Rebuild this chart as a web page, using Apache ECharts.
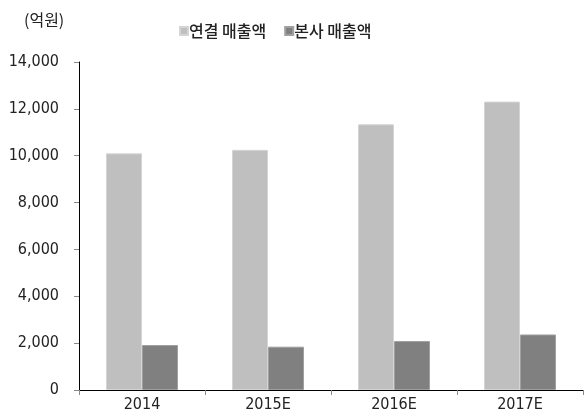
<!DOCTYPE html>
<html><head><meta charset="utf-8">
<script src="https://cdn.jsdelivr.net/npm/echarts@6/dist/echarts.min.js"></script>
<style>html,body{margin:0;padding:0;background:#fff}#c{width:584px;height:417px}</style>
</head><body><div id="c"></div>
<script>
var categories = ['2014', '2015E', '2016E', '2017E'];
var consolidated = [10100, 10250, 11340, 12310];
var parentOnly = [1920, 1850, 2090, 2370];
var seriesNames = ['연결 매출액', '본사 매출액'];
var unitLabel = '(억원)';

var FONT = '"DejaVu Sans Condensed", "Noto Sans CJK KR", sans-serif';
var KFONT = '"Noto Sans CJK KR", sans-serif';
var chart = echarts.init(document.getElementById('c'), null, {renderer: 'canvas'});
chart.setOption({
  animation: false,
  textStyle: {fontFamily: FONT},
  title: {text: unitLabel, left: 19, top: 7, textStyle: {fontFamily: KFONT, fontSize: 16, fontWeight: 'normal', color: '#222'}},
  legend: {
    data: seriesNames, left: 174, top: 18, itemWidth: 8, itemHeight: 8, itemGap: 18,
    icon: 'rect',
    textStyle: {fontFamily: KFONT, fontSize: 16, fontWeight: 500, color: '#222', padding: [0,0,0,-4]}
  },
  grid: {left: 79, right: 1, top: 62, bottom: 27, containLabel: false},
  xAxis: {
    type: 'category', data: categories,
    axisLine: {lineStyle: {color: '#000', width: 1}},
    axisTick: {show: true, length: 5, lineStyle: {color: '#888'}},
    axisLabel: {fontFamily: FONT, fontSize: 16, color: '#222', margin: 7}
  },
  yAxis: {
    type: 'value', min: 0, max: 14000, interval: 2000,
    splitLine: {show: false},
    axisLine: {show: true, lineStyle: {color: '#000', width: 1}},
    axisTick: {show: true, length: 5, lineStyle: {color: '#888'}},
    axisLabel: {fontFamily: FONT, fontSize: 16, color: '#222', margin: 20,
      formatter: function(v){ return v.toLocaleString('en-US'); }}
  },
  series: [
    {name: seriesNames[0], type: 'bar', data: consolidated, barWidth: 36, barGap: '0%',
     itemStyle: {color: '#bfbfbf', borderColor: '#d4d4d4', borderWidth: 1}},
    {name: seriesNames[1], type: 'bar', data: parentOnly, barWidth: 36, barGap: '0%',
     itemStyle: {color: '#808080', borderColor: '#a0a0a0', borderWidth: 1}}
  ]
});
</script></body></html>
